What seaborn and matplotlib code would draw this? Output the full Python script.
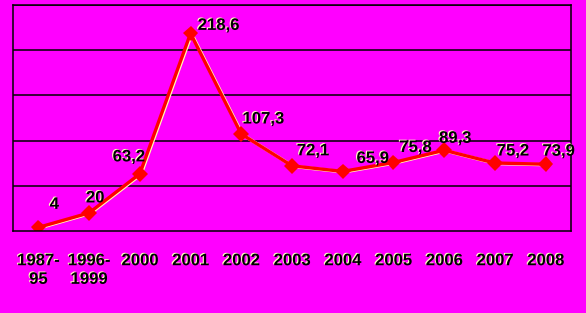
import matplotlib
matplotlib.use("Agg")
import matplotlib.pyplot as plt
import matplotlib.patheffects as pe
import seaborn as sns
import numpy as np

categories = ["1987-\n95", "1996-\n1999", "2000", "2001", "2002", "2003",
              "2004", "2005", "2006", "2007", "2008"]
values = [4, 20, 63.2, 218.6, 107.3, 72.1, 65.9, 75.8, 89.3, 75.2, 73.9]
# label offsets in pixels (style only)
label_offsets = [(16, 23), (6, 15), (-11, 17), (28, 8), (22, 15), (21, 15),
                 (30, 13), (22, 15), (11, 12), (18, 12), (13, 13)]

sns.set_theme(style="white")
plt.rcParams['font.family'] = ['Liberation Sans', 'DejaVu Sans']

MAG = "#FF00FF"
fig = plt.figure(figsize=(5.86, 3.13), dpi=100, facecolor=MAG)
ax = fig.add_axes([13/586, 1-231/313, 558/586, 226/313])
ax.set_facecolor(MAG)

sns.pointplot(x=list(range(len(values))), y=values, color="red", markers="D",
              linestyles="-", ax=ax, markersize=8, linewidth=2.4, native_scale=True)

for ln in ax.lines:
    ln.set_path_effects([pe.SimpleLineShadow(offset=(0.8, -0.4), shadow_color="#FFFFB0", alpha=1.0),
                         pe.Normal()])
    ln.set_markeredgewidth(0)

ax.set_xlim(-0.5, len(values) - 0.5)
ax.set_ylim(0, 250)
ax.set_yticks([50, 100, 150, 200, 250])
ax.set_yticklabels([])
ax.tick_params(axis="y", length=0)
ax.grid(axis="y", color="black", linewidth=1.1)
ax.grid(axis="x", visible=False)
ax.set_axisbelow(True)

for s in ["left", "right", "top", "bottom"]:
    ax.spines[s].set_visible(True)
    ax.spines[s].set_color("black")
    ax.spines[s].set_linewidth(1.1)

txt_fx = [pe.withSimplePatchShadow(offset=(-0.8, 0.6), shadow_rgbFace="#FFFFC0", alpha=1.0)]

ax.set_xticks(range(len(categories)))
ax.set_xticklabels(categories, fontsize=12, fontweight="bold", color="black",
                   linespacing=1.3)
for t in ax.get_xticklabels():
    t.set_path_effects(txt_fx)
ax.tick_params(axis="x", which="major", length=0, pad=16)
ax.set_xticks(np.arange(-0.5, len(categories), 1.0), minor=True)
ax.tick_params(axis="x", which="minor", length=4, width=1.1, color="black", direction="out")
ax.set_xlabel("")
ax.set_ylabel("")

def fmt(v):
    if float(v).is_integer():
        return str(int(v))
    return f"{v:.1f}".replace(".", ",")

for i, (v, off) in enumerate(zip(values, label_offsets)):
    ax.annotate(fmt(v), (i, v), xytext=off, textcoords="offset pixels",
                ha="center", va="center", fontsize=12, fontweight="bold",
                color="black", path_effects=txt_fx, annotation_clip=False)

fig.savefig("out.png", dpi=100, facecolor=MAG)
